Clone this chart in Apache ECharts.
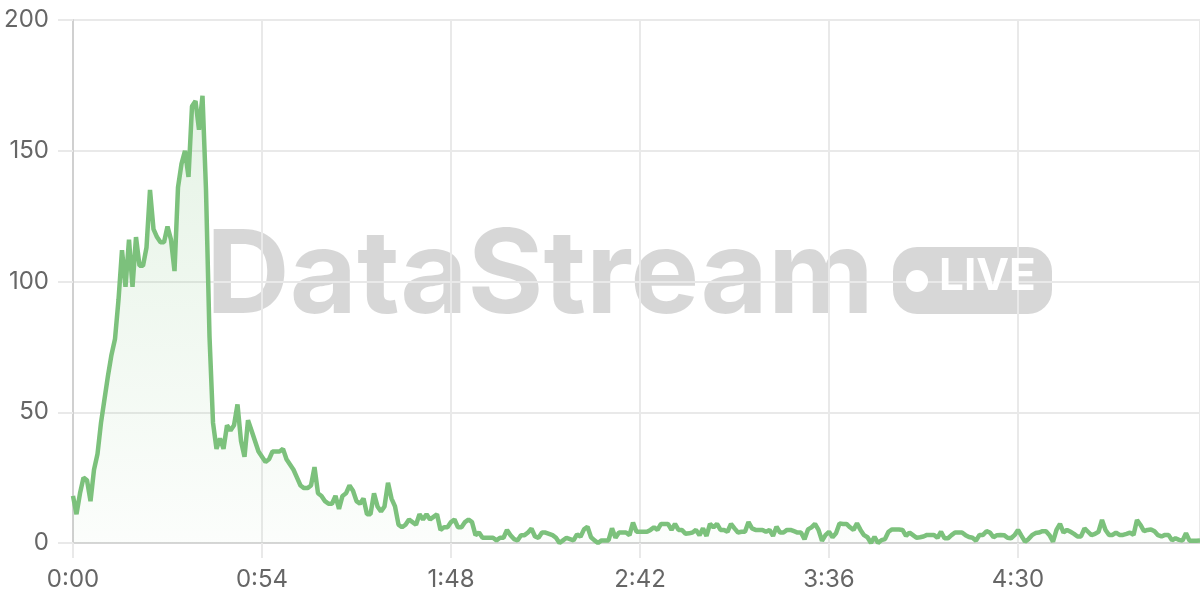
<!DOCTYPE html>
<html>
<head>
<meta charset="utf-8">
<script src="https://cdn.jsdelivr.net/npm/echarts@6/dist/echarts.min.js"></script>
<style>
html,body{margin:0;padding:0;background:#fff;}
#chart{width:1200px;height:600px;}
</style>
</head>
<body>
<div id="chart"></div>
<script>
// Values sampled once per second (index = seconds from start)
const values = [
18,11,19,25,24,16,28,34,46,55,
64,72,78,93,112,98,116,98,117,106,
106,113,135,120,117,115,115,121,116,104,
136,145,150,140,167,169,158,171,135,79,
46,36,40,36,45,43,45,53,39,33,
47,43,39,35,33,31,32,35,35,35,
36,32,30,28,25,22,21,21,22,29,
19,18,16,15,15,18,13,18,19,22,
20,16,15,17,11,11,19,14,12,14,
23,17,14,7,6,7,9,8,7,11,
9,11,9,10,11,5,6,6,8,9,
6,6,8,9,8,3,4,2,2,2,
2,1,2,2,5,3,1.5,1,3,3,
4,5.5,2.5,2,4,4,3.5,3,2,0,
1,2,1.5,1,3.3,2.4,5.2,6.2,2.2,1,
0,1,1,1,5.6,2,4,4,4,3,
7.8,4.3,4.3,4.3,4.3,5,6,5,7.3,7.3,
7.3,5,7.3,5,5,3.5,3.7,4,5,3,
5.6,2.7,7.3,6,7.3,5,5,4.3,7.3,5.6,
4,4.3,4.3,8,5.6,5,5,5,4.3,5,
2.7,6.2,4,4,5,5,4.5,4,4,1.4,
5.2,6,7.3,5,0.8,3,4.3,2.2,3.7,7.5,
7.3,7.3,6,5,7.5,5,3,2.2,0,2.4,
0,1.1,1.5,4.3,5.2,5.2,5.2,5,2.7,4,
3,2,2.2,2.5,3.1,3.1,3.1,2,4.3,1.8,
1.8,3,4,4,4,3,2.3,2,0.9,3.1,
3.1,4.5,4,2.2,3,3.1,3,2,1.8,3,
5,2.7,0.5,1.5,3,3.8,4,4.5,4.5,3,
0.5,5,7.3,4,5,4.3,3.5,2.5,2.5,5.6,
4.3,3,3.5,4.3,8.8,5,3.1,3.1,4,3.1,
3.1,3.5,4,3.1,8.8,6.9,4.5,5,5.2,4.5,
3,2.5,3.1,3.1,1,1.8,1.2,0.9,3.7,0.9,
0.9,0.9,1
];
const seconds = values.map((v, i) => i);
const yTicks = [0, 50, 100, 150, 200];
const xTickStep = 54;
const watermarkTitle = 'DataStream';
const watermarkBadge = 'LIVE';

function fmtTime(s) {
  const m = Math.floor(s / 60);
  const r = Math.round(s % 60);
  return m + ':' + (r < 10 ? '0' + r : r);
}

const chart = echarts.init(document.getElementById('chart'), null, {renderer: 'canvas'});
const wmColor = 'rgba(0,0,0,0.155)';
const gridColor = '#e9e9e9';
const font = 'Inter';
const labelColor = '#666666';

chart.setOption({
  animation: false,
  backgroundColor: '#ffffff',
  grid: {left: 73, right: 0, top: 20, bottom: 57, containLabel: false},
  graphic: [
    {
      type: 'text', z: 0, silent: true,
      left: 206, top: 220,
      style: {text: watermarkTitle, fill: wmColor, font: 'bold 116px Inter'}
    },
    {
      type: 'rect', z: 0, silent: true,
      shape: {x: 893, y: 247, width: 159, height: 67, r: 24},
      style: {fill: wmColor}
    },
    {
      type: 'circle', z: 1, silent: true,
      shape: {cx: 917, cy: 281, r: 11},
      style: {fill: '#ffffff'}
    },
    {
      type: 'text', z: 1, silent: true,
      left: 939, top: 255,
      style: {text: watermarkBadge, fill: '#ffffff', font: 'bold 44px Inter'}
    }
  ],
  xAxis: {
    type: 'value',
    min: 0,
    max: seconds[seconds.length - 1],
    interval: xTickStep,
    axisLine: {show: true, lineStyle: {color: '#d6d6d6', width: 2}},
    axisTick: {show: true, length: 15, lineStyle: {color: gridColor, width: 2}},
    splitLine: {show: true, lineStyle: {color: gridColor, width: 2}},
    axisLabel: {
      showMaxLabel: false,
      color: labelColor, fontFamily: font, fontSize: 24, margin: 25,
      formatter: v => fmtTime(v)
    }
  },
  yAxis: {
    type: 'value',
    min: yTicks[0],
    max: yTicks[yTicks.length - 1],
    interval: yTicks[1] - yTicks[0],
    axisLine: {show: true, lineStyle: {color: '#d0d0d0', width: 2}},
    axisTick: {show: true, length: 15, lineStyle: {color: gridColor, width: 2}},
    splitLine: {show: true, lineStyle: {color: gridColor, width: 2}},
    axisLabel: {color: labelColor, fontFamily: font, fontSize: 24, margin: 24}
  },
  series: [{
    type: 'line',
    data: values.map((v, i) => [seconds[i], v]),
    showSymbol: false,
    symbol: 'none',
    z: 3,
    lineStyle: {color: '#7cc17c', width: 4.5},
    itemStyle: {color: '#7cc17c'},
    areaStyle: {
      color: new echarts.graphic.LinearGradient(0, 0, 0, 1, [
        {offset: 0, color: 'rgba(124,193,124,0.28)'},
        {offset: 1, color: 'rgba(124,193,124,0.04)'}
      ])
    }
  }]
});
</script>
</body>
</html>
